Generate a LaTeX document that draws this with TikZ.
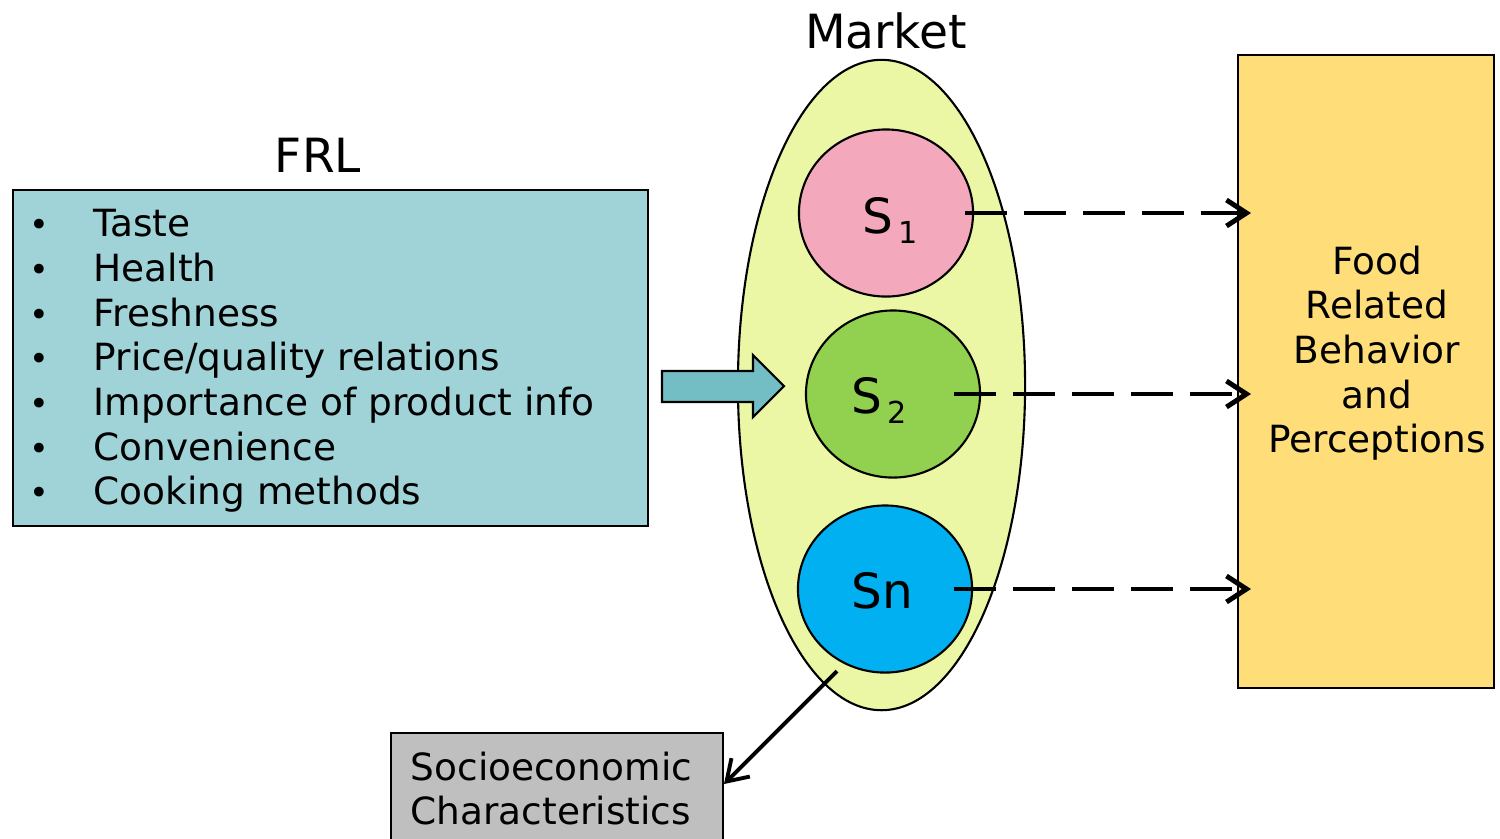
\documentclass[tikz,border=0pt]{standalone}
\usepackage{xcolor}
\usepackage{fontspec}
\setmainfont{DejaVu Sans}
\usetikzlibrary{shapes.geometric,arrows.meta}

\definecolor{frlteal}{RGB}{160,211,216}
\definecolor{arrowteal}{RGB}{114,190,196}
\definecolor{marketlime}{RGB}{235,247,165}
\definecolor{segpink}{RGB}{244,168,188}
\definecolor{seggreen}{RGB}{146,208,80}
\definecolor{segblue}{RGB}{0,176,240}
\definecolor{frbyellow}{RGB}{255,222,122}
\definecolor{socgray}{RGB}{191,191,191}

\newcommand\segsub[1]{\hspace{1.5pt}\raisebox{-3pt}{\fontsize{8.6}{9}\selectfont #1}}
\newcommand\frlbullet{\makebox[0.6cm][l]{\makebox[0.115cm]{\fontsize{9.5}{9.5}\selectfont •}}}

\tikzset{
  bodytext/.style={font=\fontsize{10.65}{12.7}\selectfont, inner sep=0pt},
  titletext/.style={font=\fontsize{13.4}{16}\selectfont, inner sep=0pt, anchor=base},
  segtext/.style={font=\fontsize{13.8}{16}\selectfont, inner sep=0pt, anchor=base west},
  item/.style={bodytext, anchor=base west},
  box/.style={draw, line width=0.6pt, inner sep=0pt},
  segment/.style={ellipse, draw, line width=0.6pt, inner sep=0pt,
    minimum width=1.74cm, minimum height=1.67cm},
  dasharrow/.style={line width=1.4pt, dash pattern=on 0.42cm off 0.17cm,
    -{Straight Barb[length=0.2cm, width=0.26cm, line width=1.4pt]}}
}

\begin{document}
\begin{tikzpicture}[x=0.01cm, y=-0.01cm]
\clip (0,0) rectangle (1500,838);

% FRL box
\node[box, fill=frlteal, minimum width=6.35cm, minimum height=3.36cm] (frl) at (330.5,358) {};
\node[titletext] (frltitle) at (318,172) {FRL};
\node[item] (taste) at (33,236) {\frlbullet Taste};
\node[item] (health) at (33,281) {\frlbullet Health};
\node[item] (fresh) at (33,326) {\frlbullet Freshness};
\node[item] (price) at (33,370) {\frlbullet Price/quality relations};
\node[item] (info) at (33,415) {\frlbullet Importance of product info};
\node[item] (conv) at (33,460) {\frlbullet Convenience};
\node[item] (cook) at (33,504) {\frlbullet Cooking methods};

% market
\node[ellipse, draw, line width=0.6pt, fill=marketlime, inner sep=0pt,
  minimum width=2.87cm, minimum height=6.5cm] (market) at (881.5,385) {};
\node[titletext] (markettitle) at (886,48) {Market};

% block arrow
\draw[fill=arrowteal, line width=0.6pt] (662,371) -- (753,371) -- (753,355) -- (784,386)
  -- (753,417) -- (753,402) -- (662,402) -- cycle;

\node[segment, fill=segpink] (s1) at (886,213) {};
\node[segment, fill=seggreen] (s2) at (893,394) {};
\node[segment, fill=segblue] (sn) at (885,589) {};
\node[segtext] (s1text) at (862,233) {S\segsub{1}};
\node[segtext] (s2text) at (851,413) {S\segsub{2}};
\node[segtext] (sntext) at (851,608) {Sn};

% behavior box
\node[box, fill=frbyellow, minimum width=2.56cm, minimum height=6.33cm] (frb) at (1366,371.5) {};
\node[bodytext, align=center] (frbtext) at (1377,353) {Food\\Related\\Behavior\\and\\Perceptions};

% socioeconomic box
\node[box, fill=socgray, minimum width=3.32cm, minimum height=1.6cm, anchor=north west] (soc) at (390,732) {};
\node[bodytext, align=left, anchor=north west] (soctext) at (410,751) {Socioeconomic\\Characteristics};

% connectors
\coordinate (d1) at (965,213);
\coordinate (d2) at (954,394);
\coordinate (dn) at (954,589);
\coordinate (e1) at (1251,213);
\coordinate (e2) at (1251,394);
\coordinate (en) at (1251,589);
\draw[dasharrow] (d1) -- (e1);
\draw[dasharrow] (d2) -- (e2);
\draw[dasharrow] (dn) -- (en);

\coordinate (socstart) at (837,671);
\coordinate (soctip) at (724,784);
\draw[line width=1.1pt, -{Straight Barb[length=0.2cm, width=0.26cm, line width=1.1pt]}] (socstart) -- (soctip);
\end{tikzpicture}
\end{document}
